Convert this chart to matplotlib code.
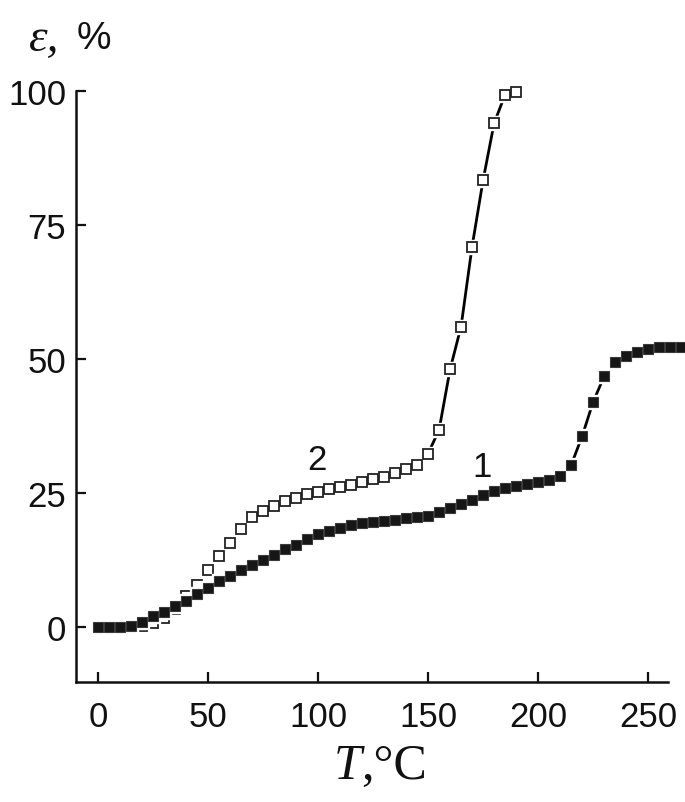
import matplotlib
matplotlib.use("Agg")
import matplotlib.pyplot as plt

# ---- data ----
T1 = [0, 5, 10, 15, 20, 25, 30, 35, 40, 45, 50, 55, 60, 65, 70, 75, 80, 85, 90, 95,
      100, 105, 110, 115, 120, 125, 130, 135, 140, 145, 150, 155, 160, 165, 170, 175,
      180, 185, 190, 195, 200, 205, 210, 215, 220, 225, 230, 235, 240, 245, 250, 255,
      260, 265]
eps1 = [0.0, 0.0, 0.1, 0.3, 0.9, 2.0, 2.9, 3.9, 4.9, 6.2, 7.4, 8.7, 9.6, 10.6, 11.6,
        12.6, 13.4, 14.6, 15.4, 16.4, 17.3, 18.0, 18.6, 19.0, 19.4, 19.6, 19.8, 20.0,
        20.3, 20.5, 20.8, 21.4, 22.2, 22.9, 23.8, 24.7, 25.4, 25.9, 26.4, 26.7, 27.1,
        27.5, 28.2, 30.2, 35.6, 42.0, 46.8, 49.4, 50.7, 51.4, 51.9, 52.2, 52.3, 52.3]

T2 = [0, 5, 10, 15, 20, 25, 30, 35, 40, 45, 50, 55, 60, 65, 70, 75, 80, 85, 90, 95,
      100, 105, 110, 115, 120, 125, 130, 135, 140, 145, 150, 155, 160, 165, 170, 175,
      180, 185, 190]
eps2 = [0.0, 0.0, 0.0, 0.1, 0.3, 0.8, 1.8, 3.3, 5.8, 7.8, 10.7, 13.2, 15.8, 18.3, 20.5,
        21.6, 22.6, 23.5, 24.1, 24.8, 25.3, 25.7, 26.2, 26.6, 27.1, 27.6, 28.1, 28.7,
        29.5, 30.3, 32.4, 36.8, 48.1, 56.1, 71.0, 83.4, 94.0, 99.4, 99.9]

xticks = [0, 50, 100, 150, 200, 250]
yticks = [0, 25, 50, 75, 100]
curve_labels = ["1", "2"]
label_pos = [(174.5, 30.0), (99.5, 31.2)]

# ---- figure ----
fig = plt.figure(figsize=(6.85, 8.03), dpi=100)
ax = fig.add_axes([0.111, 0.149, 0.864, 0.736])

ms = 6.8
halo = 9.4
for T, e, filled, z in [(T2, eps2, False, 2), (T1, eps1, True, 4)]:
    ax.plot(T, e, '-', color='black', lw=2.0, zorder=z, clip_on=False)
    ax.plot(T, e, 's', ls='none', ms=halo, mfc='white', mec='white', zorder=z + 0.1,
            clip_on=False)
    if filled:
        ax.plot(T, e, 's', ls='none', ms=ms, mfc='#161616', mec='#3a3a3a', mew=0.8,
                zorder=z + 0.2, clip_on=False)
    else:
        ax.plot(T, e, 's', ls='none', ms=ms, mfc='white', mec='#222222', mew=1.3,
                zorder=z + 0.2, clip_on=False)

for lab, (x, y) in zip(curve_labels, label_pos):
    ax.text(x, y, lab, fontsize=25, family='Liberation Sans', ha='center', va='center',
            color='#111111', zorder=6)

ax.set_xlim(-10, 259)
ax.set_ylim(-10.3, 100)
ax.set_xticks(xticks)
ax.set_yticks(yticks)
ax.set_xticklabels([str(v) for v in xticks])
ax.set_yticklabels([str(v) for v in yticks])

for s in ['top', 'right']:
    ax.spines[s].set_visible(False)
for s in ['left', 'bottom']:
    ax.spines[s].set_linewidth(1.8)
    ax.spines[s].set_color('#111111')

ax.tick_params(axis='both', direction='in', length=7, width=1.6, color='#111111',
               labelsize=25, labelcolor='#111111')
ax.tick_params(axis='x', pad=13)
ax.tick_params(axis='y', pad=7)
for lbl in ax.get_xticklabels() + ax.get_yticklabels():
    lbl.set_family('Liberation Sans')

# axis titles
fig.text(0.527, 0.045, 'T', fontsize=36, family='Liberation Serif', style='italic',
         ha='right', va='center', color='#111111')
fig.text(0.527, 0.045, ',\u00b0C', fontsize=36, family='Liberation Serif',
         ha='left', va='center', color='#111111')
fig.text(0.042, 0.950, '\u03b5,', fontsize=34, family='Liberation Serif', style='italic',
         ha='left', va='center', color='#111111')
fig.text(0.112, 0.952, '%', fontsize=28, family='Liberation Sans',
         ha='left', va='center', color='#111111')

fig.savefig('out.png', dpi=100, facecolor='white')
